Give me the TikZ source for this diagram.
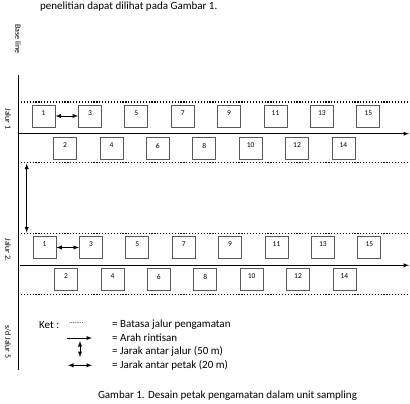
\documentclass[tikz,border=0pt]{standalone}
\usepackage{fontspec}
\setmainfont{Carlito}
\usetikzlibrary{arrows,positioning}

\begin{document}
\begin{tikzpicture}[x=1pt,y=-1pt]
\tikzstyle{petak}=[rectangle, draw=black!65, line width=0.8pt, minimum width=23pt, minimum height=22pt, inner sep=0pt, font=\fontsize{7.5}{8}\selectfont, text depth=6pt, node distance=46.4pt]
\tikzstyle{batas}=[line width=1.2pt, dash pattern=on 1.2pt off 1.7pt]
\tikzstyle{rintis}=[-latex, line width=0.9pt]
\tikzstyle{jarak}=[latex-latex, line width=0.9pt]
\tikzstyle{ket}=[anchor=west, inner sep=0pt, font=\fontsize{11}{13}\selectfont]
\tikzstyle{vlabel}=[rotate=-90, inner sep=0pt, font=\fontsize{8}{9}\selectfont]

  \useasboundingbox (0,0) rectangle (410,404);

  \node[ket] (intro) at (40,7) {penelitian dapat dilihat pada Gambar 1.};

  % base line dan label jalur
  \node[vlabel] (baselbl) at (18,39)  {Base line};
  \node[vlabel] (jalur1)  at (8,119)  {Jalur 1};
  \node[vlabel] (jalur2)  at (8,250)  {Jalur 2.};
  \node[vlabel] (jalur5)  at (8,342)  {s/d Jalur 5};
  \coordinate (baseT) at (18,75);
  \coordinate (baseB) at (18,370);
  \draw[line width=0.9pt] (baseT) -- (baseB);

  % jalur 1
  \coordinate (j1atasW)  at (18,102);   \coordinate (j1atasE)  at (410,102);
  \coordinate (j1rintW)  at (18,133.7); \coordinate (j1rintE)  at (409,133.7);
  \coordinate (j1bawahW) at (18,162.3); \coordinate (j1bawahE) at (410,162.3);

  \node[petak] (a1)  at (43.5,116)  {1};
  \node[petak] (a3)  [right of=a1]  {3};
  \node[petak] (a5)  [right of=a3]  {5};
  \node[petak] (a7)  [right of=a5]  {7};
  \node[petak] (a9)  [right of=a7]  {9};
  \node[petak] (a11) [right of=a9]  {11};
  \node[petak] (a13) [right of=a11] {13};
  \node[petak] (a15) [right of=a13] {15};

  \node[petak] (a2)  at (65,148.5)  {2};
  \node[petak] (a4)  [right of=a2]  {4};
  \node[petak] (a6)  [right of=a4]  {6};
  \node[petak] (a8)  [right of=a6]  {8};
  \node[petak] (a10) [right of=a8]  {10};
  \node[petak] (a12) [right of=a10] {12};
  \node[petak] (a14) [right of=a12] {14};

  \draw[batas]  (j1atasW) -- (j1atasE);
  \draw[rintis] (j1rintW) -- (j1rintE);
  \draw[batas]  (j1bawahW) -- (j1bawahE);
  \draw[jarak]  (a1.east) -- (a3.west);

  % jarak antar jalur
  \coordinate (gapT) at (26.7,163.5);
  \coordinate (gapB) at (26.7,232.5);
  \draw[jarak] (gapT) -- (gapB);

  % jalur 2
  \coordinate (j2atasW)  at (18,233.7); \coordinate (j2atasE)  at (410,233.7);
  \coordinate (j2rintW)  at (20,265.3); \coordinate (j2rintE)  at (409,265.3);
  \coordinate (j2bawahW) at (18,294.3); \coordinate (j2bawahE) at (410,294.3);

  \node[petak] (b1)  at (44.5,247.5) {1};
  \node[petak] (b3)  [right of=b1]  {3};
  \node[petak] (b5)  [right of=b3]  {5};
  \node[petak] (b7)  [right of=b5]  {7};
  \node[petak] (b9)  [right of=b7]  {9};
  \node[petak] (b11) [right of=b9]  {11};
  \node[petak] (b13) [right of=b11] {13};
  \node[petak] (b15) [right of=b13] {15};

  \node[petak] (b2)  at (66,279.5)  {2};
  \node[petak] (b4)  [right of=b2]  {4};
  \node[petak] (b6)  [right of=b4]  {6};
  \node[petak] (b8)  [right of=b6]  {8};
  \node[petak] (b10) [right of=b8]  {10};
  \node[petak] (b12) [right of=b10] {12};
  \node[petak] (b14) [right of=b12] {14};

  \draw[batas]  (j2atasW) -- (j2atasE);
  \draw[rintis] (j2rintW) -- (j2rintE);
  \draw[batas]  (j2bawahW) -- (j2bawahE);
  \draw[jarak]  (b1.east) -- (b3.west);

  % keterangan
  \node[ket] (ket)    at (39,325)  {Ket :};
  \node[ket] (titik)  at (69,323)  {\fontsize{7}{8}\selectfont........};
  \node[ket] (ketB)   at (112,325) {= Batasa jalur pengamatan};
  \node[ket] (ketA)   at (112,338) {= Arah rintisan};
  \node[ket] (ketJ)   at (112,351.5) {= Jarak antar jalur (50 m)};
  \node[ket] (ketP)   at (112,365) {= Jarak antar petak (20 m)};

  \coordinate (kA1) at (67,338);   \coordinate (kA2) at (92,338);
  \coordinate (kJ1) at (80,341);   \coordinate (kJ2) at (80,357);
  \coordinate (kP1) at (68,365.3); \coordinate (kP2) at (92,365.3);
  \draw[rintis] (kA1) -- (kA2);
  \draw[jarak]  (kJ1) -- (kJ2);
  \draw[jarak]  (kP1) -- (kP2);

  \node[font=\fontsize{11}{13}\selectfont, inner sep=0pt] (caption) at (227.5,396) {Gambar 1. Desain petak pengamatan dalam unit sampling};

\end{tikzpicture}
\end{document}
